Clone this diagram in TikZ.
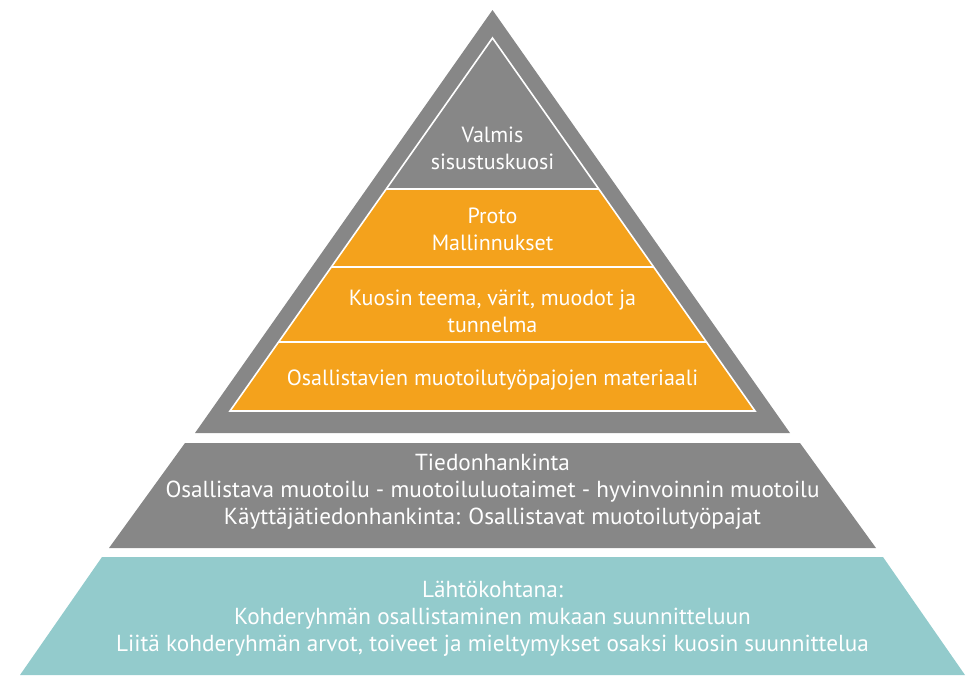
\documentclass[tikz,border=0pt]{standalone}
\usepackage{fontspec}
\setmainfont{PT Sans}
\usepackage{xcolor}
\usepackage{tikz}
\usetikzlibrary{calc}
\definecolor{gris}{HTML}{878787}
\definecolor{ambre}{HTML}{F4A21C}
\definecolor{turquoise}{HTML}{93CBCC}
\tikzset{
  couche/.style={draw=white, line width=1.2pt, line join=miter},
  texte/.style={text=white, font=\fontsize{16.5}{20.25}\selectfont,
    align=center, inner sep=0pt},
  textebas/.style={texte, font=\fontsize{17.4}{20.25}\selectfont}
}

\begin{document}
\begin{tikzpicture}[x=0.75pt, y=-0.75pt]
    \useasboundingbox (0,0) rectangle (966,675);

    % Pyramide exterieure
    \coordinate (sommet) at (492.5,10);
    \coordinate (basg) at (195,433);
    \coordinate (basd) at (790,433);
    \fill[gris] (sommet) -- (basg) -- (basd) -- cycle;

    % Triangle interieur et ses couches
    \coordinate (pointe) at (492.5,38);
    \coordinate (ig) at (230,411);
    \coordinate (id) at (755,411);
    \coordinate (g1) at ($(pointe)!0.405!(ig)$);
    \coordinate (d1) at ($(pointe)!0.405!(id)$);
    \coordinate (g2) at ($(pointe)!0.614!(ig)$);
    \coordinate (d2) at ($(pointe)!0.614!(id)$);
    \coordinate (g3) at ($(pointe)!0.815!(ig)$);
    \coordinate (d3) at ($(pointe)!0.815!(id)$);
    \fill[ambre] (g1) -- (ig) -- (id) -- (d1) -- cycle;
    \draw[couche] (pointe) -- (ig) -- (id) -- cycle;
    \draw[couche] (g1) -- (d1);
    \draw[couche] (g2) -- (d2);
    \draw[couche] (g3) -- (d3);

    % Tiedonhankinta
    \fill[gris] (185,443) -- (800,443) -- (876,548) -- (109,548) -- cycle;

    % Lahtokohta
    \fill[turquoise] (102,557) -- (883,557) -- (965,675) -- (20,675) -- cycle;

    % Textes
    \node[texte] (valmis) at (492.5,148) {Valmis\\sisustuskuosi};
    \node[texte] (proto) at (492.5,229.5) {Proto\\Mallinnukset};
    \node[texte] (kuosi) at (492.5,311) {Kuosin teema, värit, muodot ja\\tunnelma};
    \node[texte] (materiaali) at (492.5,379.5)
      {Osallistavien muotoilutyöpajojen materiaali};
    \node[textebas] (tieto) at (492.5,491.5)
      {Tiedonhankinta\\Osallistava muotoilu - muotoiluluotaimet - hyvinvoinnin muotoilu\\Käyttäjätiedonhankinta: Osallistavat muotoilutyöpajat};
    \node[textebas] (lahto) at (492.5,618.5)
      {Lähtökohtana:\\Kohderyhmän osallistaminen mukaan suunnitteluun\\Liitä kohderyhmän arvot, toiveet ja mieltymykset osaksi kuosin suunnittelua};
  \end{tikzpicture}
\end{document}
